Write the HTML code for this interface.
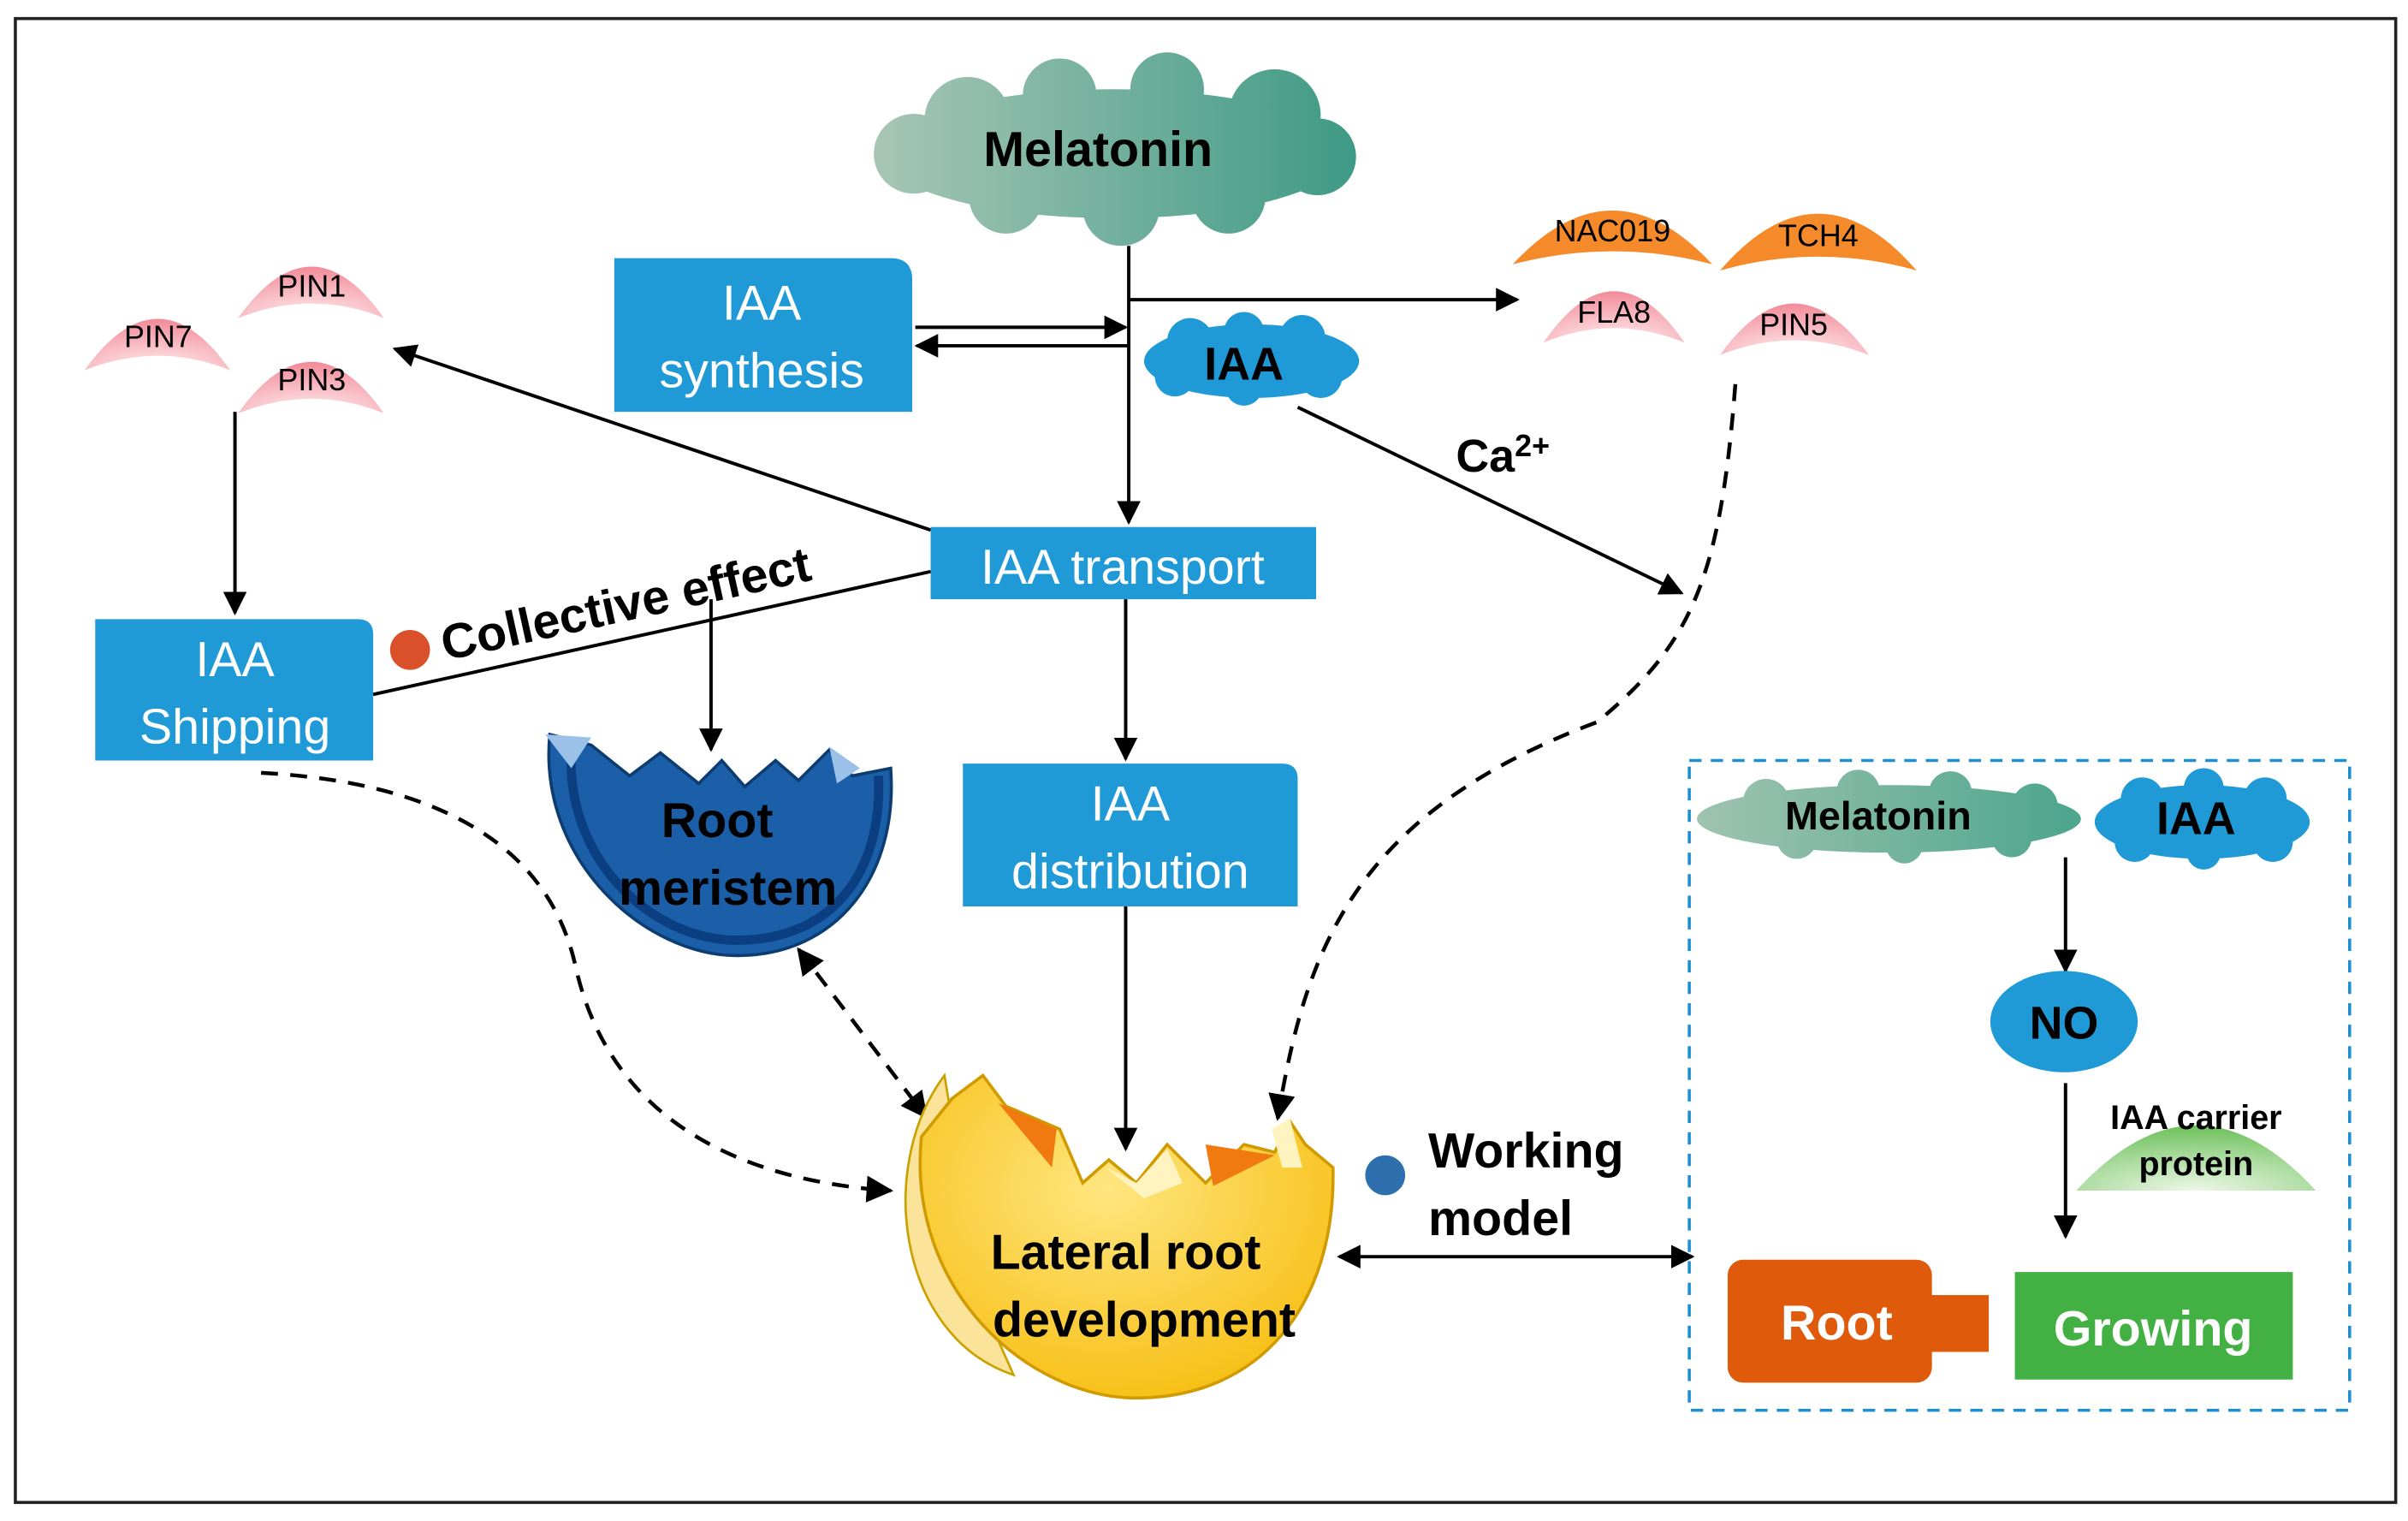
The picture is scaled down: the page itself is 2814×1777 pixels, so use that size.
<!DOCTYPE html>
<html><head><meta charset="utf-8"><style>
html,body{margin:0;padding:0;background:#fff;}
svg{display:block;}
text{font-family:"Liberation Sans",Arial,sans-serif;}
</style></head><body>
<svg width="2814" height="1777" viewBox="0 0 1568 990" xmlns="http://www.w3.org/2000/svg">
<defs>
<linearGradient id="mel" gradientUnits="userSpaceOnUse" x1="565" y1="0" x2="885" y2="0"><stop offset="0" stop-color="#a9c6b6"/><stop offset="1" stop-color="#3d9a85"/></linearGradient>
<linearGradient id="mel2" gradientUnits="userSpaceOnUse" x1="1105" y1="0" x2="1358" y2="0"><stop offset="0" stop-color="#9fc3b0"/><stop offset="1" stop-color="#4ba58c"/></linearGradient>
<radialGradient id="pink" cx="0.5" cy="1" r="1"><stop offset="0" stop-color="#fff0f2"/><stop offset="1" stop-color="#f28a98"/></radialGradient>
<radialGradient id="green" cx="0.5" cy="1" r="1"><stop offset="0" stop-color="#eef8e8"/><stop offset="1" stop-color="#6cc05a"/></radialGradient>
<radialGradient id="yel" cx="0.45" cy="0.35" r="0.8"><stop offset="0" stop-color="#ffe680"/><stop offset="1" stop-color="#f5b800"/></radialGradient>
<marker id="ah" viewBox="0 0 10 10" refX="9" refY="5" markerWidth="7" markerHeight="7" orient="auto-start-reverse"><path d="M0,0 L10,5 L0,10 z" fill="#000"/></marker>
</defs>
<rect x="10" y="12" width="1550" height="966" fill="#fff" stroke="#222" stroke-width="2"/>

<!-- Melatonin cloud -->
<g fill="url(#mel)">
<ellipse cx="725" cy="100" rx="150" ry="42"/>
<circle cx="630" cy="78" r="28"/><circle cx="690" cy="62" r="24"/><circle cx="760" cy="58" r="24"/><circle cx="830" cy="75" r="30"/>
<circle cx="595" cy="100" r="26"/><circle cx="858" cy="102" r="25"/><circle cx="655" cy="128" r="24"/><circle cx="730" cy="135" r="25"/><circle cx="800" cy="128" r="24"/>
</g>
<text x="715" y="108" font-size="32" font-weight="bold" text-anchor="middle">Melatonin</text>

<!-- IAA synthesis -->
<path d="M400,168 H580 Q594,168 594,182 V268 H400 Z" fill="#1f9ad6"/>
<text x="496" y="208" font-size="32" fill="#fff" text-anchor="middle">IAA</text>
<text x="496" y="252" font-size="32" fill="#fff" text-anchor="middle">synthesis</text>

<g stroke="#000" stroke-width="2.2" fill="none">
<line x1="735" y1="160" x2="735" y2="340" marker-end="url(#ah)"/>
<line x1="735" y1="195" x2="988" y2="195" marker-end="url(#ah)"/>
<line x1="596" y1="213" x2="733" y2="213" marker-end="url(#ah)"/>
<line x1="735" y1="225" x2="597" y2="225" marker-end="url(#ah)"/>
<line x1="606" y1="345" x2="257" y2="227" marker-end="url(#ah)"/>
<line x1="153" y1="268" x2="153" y2="399" marker-end="url(#ah)"/>
<line x1="243" y1="452" x2="606" y2="372"/>
<line x1="463" y1="390" x2="463" y2="488" marker-end="url(#ah)"/>
<line x1="733" y1="390" x2="733" y2="494" marker-end="url(#ah)"/>
<line x1="733" y1="590" x2="733" y2="748" marker-end="url(#ah)"/>
<line x1="845" y1="265" x2="1095" y2="386" marker-end="url(#ah)"/>
<line x1="872" y1="818" x2="1102" y2="818" marker-start="url(#ah)" marker-end="url(#ah)"/>
<line x1="1345" y1="558" x2="1345" y2="632" marker-end="url(#ah)"/>
<line x1="1345" y1="705" x2="1345" y2="805" marker-end="url(#ah)"/>
</g>
<g stroke="#000" stroke-width="2.5" fill="none" stroke-dasharray="11,8">
<path d="M1130,250 C1120,380 1100,420 1040,470 C880,530 850,620 832,728" marker-end="url(#ah)"/>
<path d="M170,503 C300,510 360,560 375,630 C400,740 500,770 580,775" marker-end="url(#ah)"/>
<line x1="520" y1="618" x2="603" y2="727" marker-start="url(#ah)" marker-end="url(#ah)"/>
</g>

<!-- IAA cloud -->
<g fill="#1f9ad6">
<ellipse cx="815" cy="235" rx="70" ry="24"/>
<circle cx="775" cy="222" r="15"/><circle cx="810" cy="216" r="13"/><circle cx="848" cy="220" r="15"/>
<circle cx="765" cy="245" r="13"/><circle cx="810" cy="252" r="12"/><circle cx="860" cy="245" r="14"/>
</g>
<text x="810" y="247" font-size="30" font-weight="bold" text-anchor="middle">IAA</text>

<!-- PINs -->
<g fill="url(#pink)">
<path d="M155,207 Q203,140 250,207 Q203,188 155,207 Z"/>
<path d="M55,241 Q103,174 150,241 Q103,222 55,241 Z"/>
<path d="M155,269 Q203,202 250,269 Q203,250 155,269 Z"/>
<path d="M1005,223 Q1051,156 1097,223 Q1051,204 1005,223 Z"/>
<path d="M1120,231 Q1168,164 1217,231 Q1168,212 1120,231 Z"/>
</g>
<g fill="#f58a2b">
<path d="M985,172 Q1050,102 1115,172 Q1050,155 985,172 Z"/>
<path d="M1120,176 Q1184,102 1248,176 Q1184,158 1120,176 Z"/>
</g>
<g font-size="20" text-anchor="middle">
<text x="203" y="193">PIN1</text><text x="103" y="226">PIN7</text><text x="203" y="254">PIN3</text>
<text x="1050" y="157">NAC019</text><text x="1184" y="160">TCH4</text>
<text x="1051" y="210">FLA8</text><text x="1168" y="218">PIN5</text>
</g>
<text x="948" y="307" font-size="30" font-weight="bold">Ca<tspan font-size="20" dy="-10">2+</tspan></text>

<rect x="606" y="343" width="251" height="47" fill="#1f9ad6"/>
<text x="731" y="380" font-size="32" fill="#fff" text-anchor="middle">IAA transport</text>
<path d="M62,403 H233 Q243,403 243,413 V495 H62 Z" fill="#1f9ad6"/>
<text x="153" y="440" font-size="32" fill="#fff" text-anchor="middle">IAA</text>
<text x="153" y="484" font-size="32" fill="#fff" text-anchor="middle">Shipping</text>
<path d="M627,497 H835 Q845,497 845,507 V590 H627 Z" fill="#1f9ad6"/>
<text x="736" y="534" font-size="32" fill="#fff" text-anchor="middle">IAA</text>
<text x="736" y="578" font-size="32" fill="#fff" text-anchor="middle">distribution</text>

<circle cx="267" cy="423" r="13" fill="#d9502a"/>
<text x="290" y="430" font-size="32" font-weight="bold" transform="rotate(-12.4 290 430)">Collective effect</text>

<!-- Root meristem bowl -->
<path d="M358,478 C350,560 420,622 480,622 C545,622 585,570 580,500 L555,505 L540,488 L520,508 L505,495 L485,512 L470,495 L455,510 L430,490 L410,505 L385,485 Z" fill="#1a5fa8" stroke="#0d3c70" stroke-width="2"/>
<path d="M372,488 C368,560 425,612 480,612 C540,612 575,570 572,505" fill="none" stroke="#0c3f82" stroke-width="6"/>
<path d="M355,478 L385,480 L372,500 Z M540,486 L560,500 L545,510 Z" fill="#9cc1e8"/>
<text x="467" y="545" font-size="32" font-weight="bold" text-anchor="middle">Root</text>
<text x="474" y="589" font-size="32" font-weight="bold" text-anchor="middle">meristem</text>

<!-- Lateral root bowl -->
<path d="M615,700 C570,760 585,870 660,895 L640,850 Z" fill="#fbe49a" stroke="#c9a200" stroke-width="1.5"/>
<path d="M600,740 C590,840 670,910 740,910 C820,910 870,850 868,760 L850,745 L840,730 L830,750 L810,745 L785,770 L760,745 L740,770 L722,755 L705,770 L690,735 L655,720 L640,700 L620,715 Z" fill="url(#yel)" stroke="#d09a00" stroke-width="2"/>
<path d="M650,718 L688,735 L685,760 Z M785,745 L830,752 L790,772 Z" fill="#f07a10"/>
<path d="M828,735 L840,728 L848,760 L835,760 Z M720,760 L740,770 L760,748 L770,770 L745,780 Z" fill="#fff3c0"/>
<text x="733" y="826" font-size="32" font-weight="bold" text-anchor="middle">Lateral root</text>
<text x="745" y="870" font-size="32" font-weight="bold" text-anchor="middle">development</text>

<circle cx="902" cy="765" r="13" fill="#2e6fad"/>
<text x="930" y="760" font-size="32" font-weight="bold">Working</text>
<text x="930" y="804" font-size="32" font-weight="bold">model</text>

<rect x="1100" y="495" width="430" height="423" fill="none" stroke="#1f8fd0" stroke-width="2" stroke-dasharray="8,6"/>
<g fill="url(#mel2)">
<ellipse cx="1230" cy="533" rx="125" ry="22"/>
<circle cx="1150" cy="522" r="15"/><circle cx="1210" cy="515" r="14"/><circle cx="1270" cy="516" r="14"/><circle cx="1325" cy="525" r="15"/>
<circle cx="1170" cy="546" r="13"/><circle cx="1240" cy="550" r="12"/><circle cx="1310" cy="545" r="13"/>
</g>
<text x="1223" y="540" font-size="26" font-weight="bold" text-anchor="middle">Melatonin</text>
<g fill="#1f9ad6">
<ellipse cx="1434" cy="535" rx="70" ry="24"/>
<circle cx="1395" cy="520" r="14"/><circle cx="1435" cy="513" r="13"/><circle cx="1475" cy="520" r="14"/>
<circle cx="1390" cy="548" r="13"/><circle cx="1435" cy="555" r="11"/><circle cx="1480" cy="548" r="13"/>
</g>
<text x="1430" y="543" font-size="30" font-weight="bold" text-anchor="middle">IAA</text>
<ellipse cx="1344" cy="665" rx="48" ry="33" fill="#1f9ad6"/>
<text x="1344" y="676" font-size="30" font-weight="bold" text-anchor="middle">NO</text>
<path d="M1352,775 Q1430,690 1508,775 Z" fill="url(#green)"/>
<text x="1430" y="735" font-size="22" font-weight="bold" text-anchor="middle">IAA carrier</text>
<text x="1430" y="765" font-size="22" font-weight="bold" text-anchor="middle">protein</text>
<rect x="1125" y="820" width="133" height="80" rx="10" fill="#e05a0c"/>
<rect x="1255" y="843" width="40" height="37" fill="#e05a0c"/>
<text x="1196" y="872" font-size="32" font-weight="bold" fill="#fff" text-anchor="middle">Root</text>
<rect x="1312" y="828" width="181" height="70" fill="#43b043"/>
<text x="1402" y="876" font-size="32" font-weight="bold" fill="#fff" text-anchor="middle">Growing</text>
</svg>
</body></html>
